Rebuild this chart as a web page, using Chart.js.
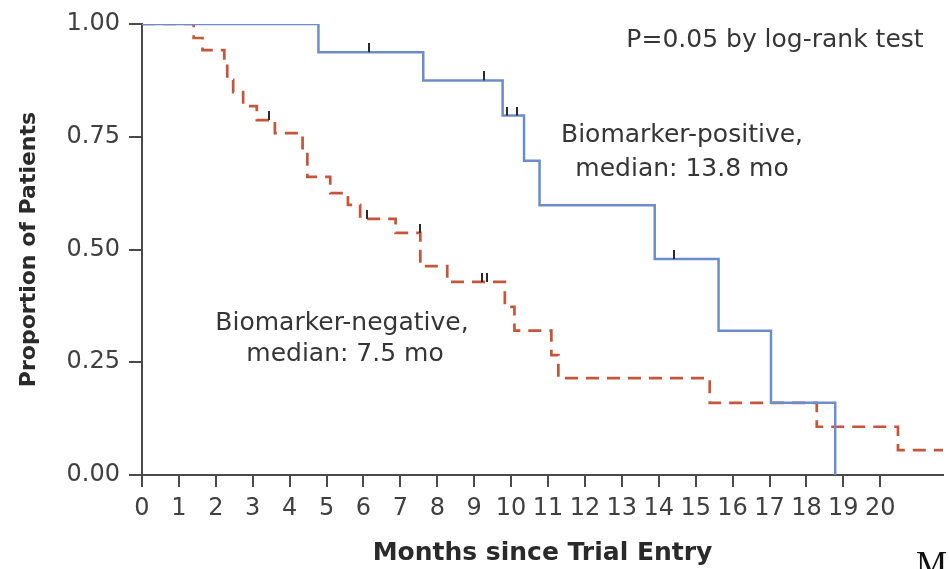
<!DOCTYPE html>
<html>
<head>
<meta charset="utf-8">
<title>Survival by biomarker status</title>
<script src="https://cdn.jsdelivr.net/npm/chart.js@4.4.1/dist/chart.umd.min.js"></script>
<style>
  html, body { margin: 0; padding: 0; background: #fff; }
  #wrap { width: 949px; height: 569px; }
</style>
</head>
<body>
<div id="wrap"><canvas id="kmchart" width="949" height="569"></canvas></div>
<script>
// data (months, proportion surviving)
var posTimes = [0, 4.78, 7.62, 9.77, 10.35, 10.77, 13.89, 15.62, 17.04, 18.78];
var posSurv  = [1.0, 0.9375, 0.875, 0.797, 0.697, 0.598, 0.479, 0.32, 0.16, 0];
var posCensorTimes = [6.16, 9.27, 9.88, 10.15, 14.42];
var posCensorSurv  = [0.9375, 0.875, 0.797, 0.797, 0.479];

var negTimes = [0, 1.40, 1.64, 2.23, 2.31, 2.47, 2.74, 3.11, 3.60, 4.35, 4.48, 5.10, 5.58, 5.91, 6.87, 7.54, 8.27, 9.83, 10.09, 11.09, 11.28, 15.38, 18.28, 20.48, 21.7];
var negSurv  = [1.0, 0.969, 0.942, 0.907, 0.876, 0.849, 0.818, 0.787, 0.758, 0.72, 0.661, 0.625, 0.599, 0.568, 0.537, 0.463, 0.428, 0.373, 0.32, 0.266, 0.215, 0.16, 0.107, 0.055, 0.055];
var negCensorTimes = [3.44, 6.09, 7.52, 9.21, 9.34];
var negCensorSurv  = [0.787, 0.568, 0.537, 0.428, 0.428];

var monthTicks = [0, 1, 2, 3, 4, 5, 6, 7, 8, 9, 10, 11, 12, 13, 14, 15, 16, 17, 18, 19, 20];
var propTicks = [0, 0.25, 0.5, 0.75, 1.0];

var FONT = "'DejaVu Sans', 'Noto Sans', sans-serif";

function toPoints(xs, ys) {
	return xs.map(function(x, i) { return { x: x, y: ys[i] }; });
}

// little vertical tick that sits on top of the curve (censored patient)
function censorMark() {
	var c = document.createElement('canvas');
	c.width = 2;
	c.height = 18;
	var g = c.getContext('2d');
	g.fillStyle = '#2a2a2a';
	g.fillRect(0, 0, 2, 9);
	return c;
}

var textPlugin = {
	id: 'kmtext',
	afterDraw: function(chart) {
		var ctx = chart.ctx;
		ctx.save();
		ctx.fillStyle = '#363636';
		ctx.textAlign = 'center';
		ctx.textBaseline = 'middle';
		ctx.font = '25px ' + FONT;
		ctx.fillText('P=0.05 by log-rank test', 775, 40);
		ctx.fillText('Biomarker-positive,', 682, 135);
		ctx.fillText('median: 13.8 mo', 682, 169);
		ctx.fillText('Biomarker-negative,', 342, 323);
		ctx.fillText('median: 7.5 mo', 345, 354);
		// stray letter cut off at the page corner
		ctx.fillStyle = '#111';
		ctx.textAlign = 'left';
		ctx.textBaseline = 'alphabetic';
		ctx.font = "35px 'Liberation Serif', serif";
		ctx.fillText('M', 916, 576);
		ctx.restore();
	}
};

var tick = censorMark();

var chart = new Chart(document.getElementById('kmchart').getContext('2d'), {
	type: 'scatter',
	data: {
		datasets: [
			{
				label: 'pos censored',
				data: toPoints(posCensorTimes, posCensorSurv),
				pointStyle: tick,
				pointRadius: 5,
				showLine: false
			},
			{
				label: 'neg censored',
				data: toPoints(negCensorTimes, negCensorSurv),
				pointStyle: tick,
				pointRadius: 5,
				showLine: false
			},
			{
				label: 'Biomarker-positive',
				data: toPoints(posTimes, posSurv),
				showLine: true,
				stepped: true,
				borderColor: '#6d8dc9',
				borderWidth: 2.5,
				pointRadius: 0,
				fill: false
			},
			{
				label: 'Biomarker-negative',
				data: toPoints(negTimes, negSurv),
				showLine: true,
				stepped: true,
				borderColor: '#c4563c',
				borderWidth: 2.7,
				borderDash: [13, 8],
				pointRadius: 0,
				fill: false
			}
		]
	},
	options: {
		responsive: false,
		animation: false,
		events: [],
		layout: { padding: { top: 24, right: 0, bottom: 0, left: 0 } },
		plugins: {
			legend: { display: false },
			tooltip: { enabled: false }
		},
		scales: {
			x: {
				type: 'linear',
				min: 0,
				max: 21.7,
				afterBuildTicks: function(scale) {
					scale.ticks = monthTicks.map(function(v) { return { value: v }; });
				},
				afterFit: function(scale) { scale.height = 94; },
				border: { display: true, color: '#4a4a4a', width: 2 },
				grid: { drawOnChartArea: false, drawTicks: true, tickLength: 12, tickColor: '#4a4a4a', lineWidth: 2 },
				ticks: {
					color: '#404040',
					font: { family: FONT, size: 24 },
					padding: 7,
					maxRotation: 0,
					autoSkip: false,
					callback: function(v) { return String(v); }
				},
				title: {
					display: true,
					text: 'Months since Trial Entry',
					color: '#2a2a2a',
					font: { family: FONT, size: 25, weight: 'bold' },
					padding: { top: 0, bottom: 1 }
				}
			},
			y: {
				type: 'linear',
				min: 0,
				max: 1,
				afterBuildTicks: function(scale) {
					scale.ticks = propTicks.map(function(v) { return { value: v }; });
				},
				afterFit: function(scale) { scale.width = 142; },
				border: { display: true, color: '#4a4a4a', width: 2 },
				grid: { drawOnChartArea: false, drawTicks: true, tickLength: 13, tickColor: '#4a4a4a', lineWidth: 2 },
				ticks: {
					color: '#404040',
					font: { family: FONT, size: 24 },
					padding: 9,
					callback: function(v) { return v.toFixed(2); }
				},
				title: {
					display: true,
					text: 'Proportion of Patients',
					color: '#2a2a2a',
					font: { family: FONT, size: 22, weight: 'bold' },
					padding: { top: 16, bottom: 0 }
				}
			}
		}
	},
	plugins: [textPlugin]
});
</script>
</body>
</html>
